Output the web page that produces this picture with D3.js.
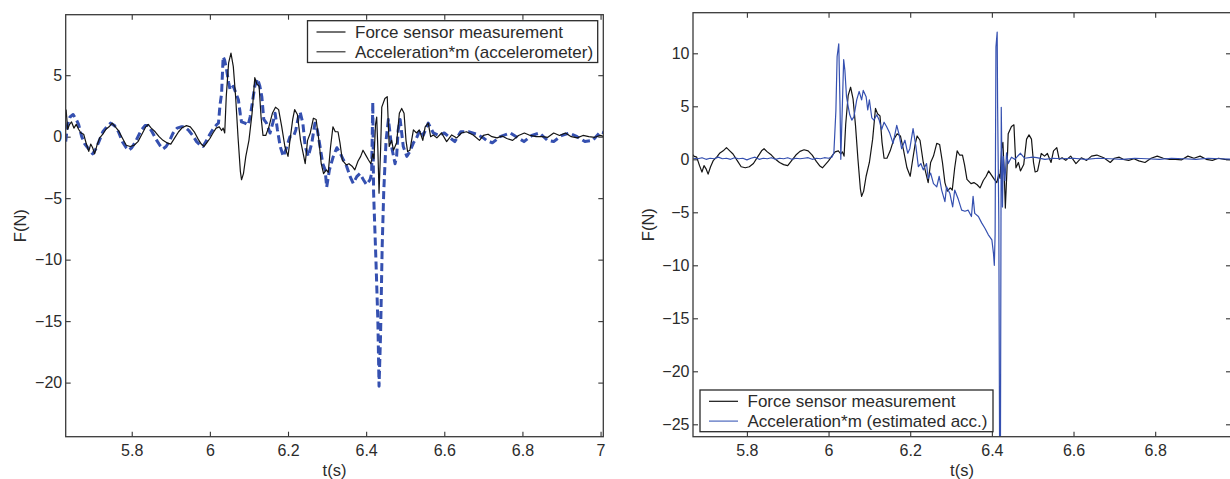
<!DOCTYPE html>
<html>
<head>
<meta charset="utf-8">
<script src="https://cdn.jsdelivr.net/npm/d3@7"></script>
<style>
  body { margin: 0; background: #fff; }
  svg { display: block; font-family: "Liberation Sans", Arial, Helvetica, sans-serif; }
  .tick text { fill: #2b2b2b; font-size: 16px; }
  .tick line { stroke: #333; stroke-width: 1.1; }
  .axis-title { fill: #2b2b2b; font-size: 16.5px; }
  .legend text { fill: #2b2b2b; font-size: 17px; }
</style>
</head>
<body>
<div class="wrapper"></div>
<script>
var width = 1230,
  height = 479;

// Force sensor measurement (the same signal is shown in both panels)
var forceT = [
  5.632, 5.636, 5.641, 5.646, 5.652, 5.658, 5.664, 5.670, 5.677, 5.684, 5.690, 5.695, 5.700, 5.705, 5.711,
  5.718, 5.726, 5.734, 5.742, 5.750, 5.758, 5.766, 5.776, 5.786, 5.796, 5.806, 5.816, 5.826, 5.836, 5.842,
  5.850, 5.860, 5.870, 5.880, 5.890, 5.900, 5.910, 5.920, 5.930, 5.940, 5.950, 5.960, 5.970, 5.978, 5.985,
  5.992, 6.000, 6.008, 6.016, 6.024, 6.030, 6.034, 6.038, 6.042, 6.048, 6.054, 6.060, 6.066, 6.072, 6.078,
  6.081, 6.086, 6.092, 6.100, 6.108, 6.115, 6.120, 6.126, 6.131, 6.136, 6.143, 6.151, 6.160, 6.168, 6.176,
  6.184, 6.192, 6.200, 6.205, 6.212, 6.217, 6.224, 6.232, 6.239, 6.244, 6.250, 6.257, 6.265, 6.272, 6.279,
  6.285, 6.291, 6.298, 6.303, 6.309, 6.315, 6.321, 6.328, 6.333, 6.339, 6.349, 6.356, 6.364, 6.371, 6.379,
  6.386, 6.392, 6.399, 6.406, 6.412, 6.417, 6.420, 6.424, 6.427, 6.430, 6.433, 6.437, 6.440, 6.448, 6.454,
  6.459, 6.465, 6.470, 6.478, 6.485, 6.491, 6.497, 6.502, 6.506, 6.512, 6.521, 6.529, 6.536, 6.545, 6.551,
  6.559, 6.565, 6.572, 6.581, 6.593, 6.606, 6.619, 6.632, 6.644, 6.657, 6.674, 6.690, 6.700, 6.712, 6.722,
  6.735, 6.748, 6.760, 6.775, 6.790, 6.805, 6.820, 6.835, 6.850, 6.865, 6.880, 6.895, 6.910, 6.925, 6.940,
  6.955, 6.970, 6.985, 7.000, 7.010
];
var forceV = [
  2.2, 0.6, 1.0, 1.2, 0.7, 1.0, 0.6, 0.3, 0.2, -0.6, -1.2, -0.6, -0.9, -1.4, -0.7,
  -0.1, 0.2, 0.6, 0.8, 1.1, 0.8, 0.5, -0.1, -0.7, -0.8, -0.7, -0.4, 0.2, 0.8, 1.0,
  0.7, 0.4, 0.0, -0.3, -0.5, -0.6, -0.1, 0.4, 0.75, 0.9, 0.8, 0.4, -0.2, -0.6, -0.8,
  -0.5, -0.15, 0.3, 0.7, 0.8, 0.5, 0.7, 0.3, 3.3, 6.0, 6.8, 5.7, 3.2, 0.0, -2.8,
  -3.5, -3.0, -1.6, -0.3, 1.9, 4.8, 4.3, 4.1, 1.6, 0.1, 0.1, 0.8, 1.9, 2.4, 2.2,
  0.8, -0.8, -1.6, -0.3, 1.4, 2.2, 1.8, -0.3, -1.4, -2.2, -0.3, 0.3, 1.5, 1.4, -0.3,
  -2.2, -3.0, -2.7, -2.9, -0.8, 0.8, 0.4, 0.4, -0.5, -1.9, -2.3, -2.2, -2.4, -2.7, -2.0,
  -1.6, -1.1, -1.5, -1.9, -2.2, -1.4, -1.8, 1.0, 1.6, -1.0, -4.6, -1.0, 2.4, 3.1, 3.25,
  -0.8, -0.3, -1.1, -0.5, 1.9, 2.3, 1.9, -0.3, -1.2, -1.1, 0.55, 0.3, 0.55, -0.3, 0.8,
  1.1, 0.0, 0.14, -0.1, 0.3, -0.4, 0.14, -0.1, 0.3, 0.4, 0.14, -0.3, 0.1, 0.2, 0.0,
  -0.1, 0.05, -0.15, -0.3, 0.1, 0.3, 0.1, 0.0, 0.0, -0.05, 0.3, 0.1, 0.3, 0.0, -0.1,
  0.1, 0.0, -0.05, 0.1, 0.0
];

// Acceleration*m from the accelerometer (left panel, dashed)
var accT = [
  5.631, 5.636, 5.642, 5.650, 5.658, 5.664, 5.672, 5.680, 5.690, 5.700, 5.708, 5.716, 5.726, 5.736, 5.746,
  5.756, 5.766, 5.776, 5.786, 5.792, 5.800, 5.808, 5.816, 5.824, 5.834, 5.842, 5.852, 5.862, 5.872, 5.880,
  5.888, 5.896, 5.906, 5.916, 5.926, 5.936, 5.946, 5.956, 5.966, 5.976, 5.982, 5.990, 6.000, 6.010, 6.018,
  6.022, 6.026, 6.030, 6.034, 6.038, 6.043, 6.048, 6.052, 6.060, 6.066, 6.073, 6.078, 6.081, 6.090, 6.098,
  6.103, 6.107, 6.115, 6.122, 6.128, 6.133, 6.138, 6.145, 6.154, 6.161, 6.167, 6.173, 6.180, 6.188, 6.195,
  6.205, 6.214, 6.220, 6.226, 6.231, 6.238, 6.244, 6.252, 6.261, 6.269, 6.275, 6.282, 6.289, 6.295, 6.299,
  6.306, 6.316, 6.325, 6.333, 6.342, 6.350, 6.359, 6.367, 6.376, 6.384, 6.393, 6.401, 6.410, 6.414, 6.417,
  6.419, 6.425, 6.430, 6.433, 6.437, 6.441, 6.445, 6.451, 6.457, 6.465, 6.474, 6.478, 6.482, 6.487, 6.495,
  6.504, 6.512, 6.521, 6.529, 6.538, 6.546, 6.559, 6.572, 6.586, 6.600, 6.615, 6.627, 6.642, 6.662, 6.683,
  6.700, 6.708, 6.723, 6.743, 6.769, 6.789, 6.804, 6.824, 6.844, 6.864, 6.880, 6.900, 6.920, 6.940, 6.960,
  6.980, 7.000, 7.010
];
var accV = [
  -0.4, 1.0, 1.6, 1.8, 1.4, 1.0, 0.0, -0.6, -1.0, -1.4, -1.0, -0.4, 0.4, 0.8, 1.1,
  0.9, 0.4, -0.4, -0.9, -1.1, -0.9, -0.5, 0.0, 0.5, 0.9, 0.9, 0.4, -0.2, -0.7, -1.0,
  -0.8, -0.4, 0.3, 0.7, 0.8, 0.8, 0.5, 0.1, -0.4, -0.7, -0.8, -0.4, 0.2, 0.7, 1.0,
  1.1, 2.6, 3.5, 6.5, 6.2, 5.4, 4.4, 3.8, 4.1, 3.6, 3.0, 1.8, 1.2, 1.1, 0.95,
  1.6, 2.4, 4.1, 4.7, 4.1, 3.25, 1.4, 1.1, 0.3, 1.1, 1.9, 0.55, -0.8, -1.6, -1.0,
  0.0, 0.0, 0.55, 1.5, 2.0, 1.1, -0.8, -1.6, -0.5, 1.1, 0.55, -0.8, -2.2, -2.7, -4.1,
  -2.7, -1.6, -0.9, -1.3, -1.9, -2.4, -3.25, -3.8, -3.25, -3.0, -3.5, -3.9, -3.5, -3.0, 2.8,
  -4.5, -10.0, -15.0, -20.3, -16.0, -9.0, -4.5, -0.3, 1.4, -0.8, -2.2, -1.6, 0.55, 1.4, -0.8,
  -1.6, -1.2, -0.5, -0.1, 0.55, 0.1, 1.1, 0.3, 0.1, 0.3, -0.1, -0.4, 0.4, 0.4, 0.2,
  -0.1, -0.3, -0.5, 0.0, 0.3, -0.1, -0.4, 0.1, 0.3, -0.3, -0.4, 0.1, 0.3, 0.0, -0.4,
  -0.3, 0.4, 0.3
];

// Acceleration*m from the estimated acceleration (right panel)
var estT = [
  5.668, 5.680, 5.690, 5.700, 5.710, 5.720, 5.730, 5.740, 5.750, 5.760, 5.770, 5.780, 5.790, 5.800, 5.810,
  5.820, 5.830, 5.840, 5.850, 5.860, 5.870, 5.880, 5.890, 5.900, 5.910, 5.920, 5.930, 5.940, 5.950, 5.960,
  5.970, 5.980, 5.990, 6.000, 6.008, 6.013, 6.018, 6.021, 6.025, 6.028, 6.030, 6.034, 6.037, 6.040, 6.044,
  6.048, 6.052, 6.057, 6.062, 6.069, 6.075, 6.081, 6.085, 6.092, 6.096, 6.100, 6.106, 6.111, 6.118, 6.124,
  6.130, 6.136, 6.142, 6.150, 6.158, 6.167, 6.173, 6.179, 6.187, 6.194, 6.199, 6.207, 6.214, 6.220, 6.226,
  6.232, 6.240, 6.244, 6.250, 6.257, 6.265, 6.271, 6.277, 6.285, 6.289, 6.297, 6.304, 6.309, 6.318, 6.326,
  6.334, 6.342, 6.350, 6.354, 6.358, 6.367, 6.375, 6.383, 6.391, 6.400, 6.404, 6.406, 6.408, 6.410, 6.413,
  6.414, 6.417, 6.419, 6.421, 6.423, 6.426, 6.428, 6.432, 6.436, 6.440, 6.448, 6.456, 6.470, 6.480, 6.500,
  6.510, 6.530, 6.550, 6.570, 6.600, 6.630, 6.660, 6.690, 6.720, 6.750, 6.780, 6.810, 6.840, 6.870, 6.900,
  6.930, 6.960, 6.990
];
var estV = [
  0.1, 0.05, 0.15, 0.0, 0.1, 0.05, 0.2, 0.05, 0.1, 0.0, 0.15, 0.05, 0.1, -0.05, 0.1,
  0.2, 0.0, 0.1, 0.05, 0.15, 0.0, 0.1, 0.05, 0.15, 0.0, 0.1, 0.05, 0.1, 0.15, 0.0,
  0.1, 0.05, 0.15, 0.1, 0.2, 0.6, 4.6, 9.7, 10.9, 5.3, 0.0, 5.3, 9.4, 8.4, 5.9,
  5.0, 4.2, 3.7, 4.0, 5.6, 6.4, 5.6, 6.5, 5.9, 4.65, 5.6, 3.9, 3.7, 4.2, 3.7,
  2.8, 3.5, 3.1, 2.45, 1.5, 3.2, 2.3, 1.0, 1.8, 0.57, 1.0, 2.9, 1.2, -0.7, -0.4,
  -1.0, -0.4, -1.8, -1.3, -2.3, -2.6, -1.6, -2.9, -4.0, -2.6, -3.2, -4.5, -2.9, -3.8, -4.8,
  -4.9, -4.8, -5.4, -3.5, -5.1, -5.4, -6.0, -6.5, -7.1, -7.6, -8.9, -10.0, -7.0, 10.6, 12.0,
  5.3, -5.7, -28.0, -28.0, 4.9, -4.5, 0.25, -2.0, 0.6, -0.4, 0.2, 0.0, 0.57, 0.1, 0.2,
  0.15, 0.0, 0.1, 0.05, 0.1, 0.0, 0.1, 0.05, 0.0, 0.1, 0.05, 0.0, 0.1, 0.05, 0.0,
  0.1, 0.05, 0.0
];

var leftXTicks = [5.8, 6, 6.2, 6.4, 6.6, 6.8, 7];
var leftYTicks = [5, 0, -5, -10, -15, -20];
var rightXTicks = [5.8, 6, 6.2, 6.4, 6.6, 6.8];
var rightYTicks = [10, 5, 0, -5, -10, -15, -20, -25];
var leftLegendLabels = ["Force sensor measurement", "Acceleration*m (accelerometer)"];
var rightLegendLabels = ["Force sensor measurement", "Acceleration*m (estimated acc.)"];

var black = "#141414";
var blue = "#3550b0";

var svg = d3.select(".wrapper").append("svg")
  .attr("width", width)
  .attr("height", height);

var panels = [
  {
    id: "left",
    box: { x0: 65.7, x1: 603.3, y0: 14.7, y1: 436.7 },
    xDomain: [5.631, 7.007],
    yDomain: [-24.4, 9.92],
    xTicks: leftXTicks,
    yTicks: leftYTicks,
    series: [
      { t: accT, v: accV, color: blue, width: 3, dash: "8,4" },
      { t: forceT, v: forceV, color: black, width: 1.2 }
    ],
    legend: {
      x: 307.5, y: 20.7, w: 290.2, h: 41.8,
      labels: leftLegendLabels,
      colors: [black, "#333"]
    }
  },
  {
    id: "right",
    box: { x0: 693, x1: 1231, y0: 12.7, y1: 436.7 },
    xDomain: [5.668, 6.9857],
    yDomain: [-26.17, 13.83],
    xTicks: rightXTicks,
    yTicks: rightYTicks,
    series: [
      { t: forceT, v: forceV, color: black, width: 1.2 },
      { t: estT, v: estV, color: blue, width: 1.2 }
    ],
    legend: {
      x: 700, y: 390, w: 293, h: 41.7,
      labels: rightLegendLabels,
      colors: [black, "#4d68bd"]
    }
  }
];

/**
 * Tick labels as in the original figure: "6" not "6.0", real minus signs.
 */
function formatTick(d) {
  var s = String(+d.toFixed(1));
  return d < 0 ? "\u2212" + s.slice(1) : s;
}

/**
 * Draws one framed panel: ticks on all four sides, clipped series, legend.
 */
function drawPanel(p) {
  var b = p.box;
  var x = d3.scaleLinear().domain(p.xDomain).range([b.x0, b.x1]);
  var y = d3.scaleLinear().domain(p.yDomain).range([b.y1, b.y0]);
  var g = svg.append("g").attr("class", "panel-" + p.id);

  g.append("clipPath").attr("id", "clip-" + p.id)
    .append("rect")
    .attr("x", b.x0).attr("y", b.y0)
    .attr("width", b.x1 - b.x0).attr("height", b.y1 - b.y0);

  // inward ticks, labels only on bottom and left
  g.append("g").attr("transform", "translate(0," + b.y1 + ")")
    .call(d3.axisBottom(x).tickValues(p.xTicks).tickSizeInner(-5).tickSizeOuter(0)
      .tickPadding(7.5).tickFormat(formatTick));
  g.append("g").attr("transform", "translate(0," + b.y0 + ")")
    .call(d3.axisTop(x).tickValues(p.xTicks).tickSizeInner(-5).tickSizeOuter(0).tickFormat(""));
  g.append("g").attr("transform", "translate(" + b.x0 + ",0)")
    .call(d3.axisLeft(y).tickValues(p.yTicks).tickSizeInner(-5).tickSizeOuter(0)
      .tickPadding(3.5).tickFormat(formatTick));
  g.append("g").attr("transform", "translate(" + b.x1 + ",0)")
    .call(d3.axisRight(y).tickValues(p.yTicks).tickSizeInner(-5).tickSizeOuter(0).tickFormat(""));
  g.selectAll(".domain").remove();
  g.selectAll(".tick text").attr("font-family", null);

  var plot = g.append("g").attr("clip-path", "url(#clip-" + p.id + ")");
  p.series.forEach(function(s) {
    var line = d3.line()
      .x(function(i) { return x(s.t[i]); })
      .y(function(i) { return y(s.v[i]); });
    plot.append("path")
      .datum(d3.range(s.t.length))
      .attr("d", line)
      .attr("fill", "none")
      .attr("stroke", s.color)
      .attr("stroke-width", s.width)
      .attr("stroke-linejoin", "round")
      .attr("stroke-dasharray", s.dash || null);
  });

  // frame
  g.append("rect")
    .attr("x", b.x0).attr("y", b.y0)
    .attr("width", b.x1 - b.x0).attr("height", b.y1 - b.y0)
    .attr("fill", "none")
    .attr("stroke", "#3a3a3a")
    .attr("stroke-width", 1.3);

  // axis titles
  g.append("text").attr("class", "axis-title")
    .attr("x", (b.x0 + b.x1) / 2).attr("y", 476)
    .attr("text-anchor", "middle")
    .text("t(s)");
  g.append("text").attr("class", "axis-title")
    .attr("transform", "translate(" + (b.x0 - 45) + "," + (b.y0 + b.y1) / 2 + ") rotate(-90)")
    .attr("text-anchor", "middle")
    .attr("dy", "0.35em")
    .text("F(N)");

  drawLegend(g, p.legend);
}

/**
 * Boxed legend with a short line sample next to each label.
 */
function drawLegend(g, lg) {
  var leg = g.append("g").attr("class", "legend");
  leg.append("rect")
    .attr("x", lg.x).attr("y", lg.y)
    .attr("width", lg.w).attr("height", lg.h)
    .attr("fill", "#fff")
    .attr("stroke", "#2a2a2a")
    .attr("stroke-width", 1.3);
  var rows = leg.selectAll(".row").data(lg.labels).enter().append("g")
    .attr("class", "row")
    .attr("transform", function(d, i) { return "translate(" + lg.x + "," + (lg.y + 11.3 + i * 19.8) + ")"; });
  rows.append("line")
    .attr("x1", 9).attr("x2", 38)
    .attr("stroke", function(d, i) { return lg.colors[i]; })
    .attr("stroke-width", 1.2);
  rows.append("text")
    .attr("x", 47.5)
    .attr("dy", "0.36em")
    .text(function(d) { return d; });
}

panels.forEach(drawPanel);
</script>
</body>
</html>
